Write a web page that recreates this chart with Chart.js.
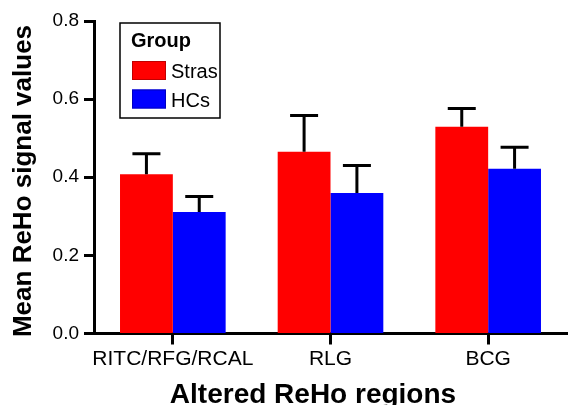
<!DOCTYPE html>
<html lang="en">
<head>
    <meta charset="UTF-8">
    <title>ReHo signal values</title>
    <script src="https://cdn.jsdelivr.net/npm/chart.js"></script>
    <style>
        body {
            margin: 0;
            background: #fff;
        }
    </style>
</head>
<body>
    <canvas id="rehoChart" width="569" height="405"></canvas>
<script>
    // Data
    const regions = ['RITC/RFG/RCAL', 'RLG', 'BCG'];
    const groups = ['Stras', 'HCs'];
    const strasMeans = [0.408, 0.465, 0.529];
    const strasErr = [0.052, 0.093, 0.047];
    const hcsMeans = [0.311, 0.360, 0.422];
    const hcsErr = [0.040, 0.070, 0.055];
    const yTickLabels = ['0.0', '0.2', '0.4', '0.6', '0.8'];

    const FONT = "'Liberation Sans', Arial, sans-serif";

    // one-sided (upper) error bars
    const errorBars = {
        id: 'errorBars',
        afterDatasetsDraw(chart) {
            const ctx = chart.ctx;
            const y = chart.scales.y;
            ctx.save();
            ctx.strokeStyle = '#000';
            ctx.lineWidth = 3;
            chart.data.datasets.forEach((ds, i) => {
                const meta = chart.getDatasetMeta(i);
                meta.data.forEach((bar, j) => {
                    const top = y.getPixelForValue(ds.data[j] + ds.errors[j]);
                    ctx.beginPath();
                    ctx.moveTo(bar.x, bar.y);
                    ctx.lineTo(bar.x, top);
                    ctx.moveTo(bar.x - 14, top);
                    ctx.lineTo(bar.x + 14, top);
                    ctx.stroke();
                });
            });
            ctx.restore();
        }
    };

    // boxed legend with title, inside the plot, plus the axis titles
    const extras = {
        id: 'extras',
        afterDraw(chart) {
            const ctx = chart.ctx;
            ctx.save();
            ctx.fillStyle = '#000';

            // legend box
            ctx.strokeStyle = '#000';
            ctx.lineWidth = 1.5;
            ctx.strokeRect(120, 23, 100, 95);
            ctx.font = 'bold 20px ' + FONT;
            ctx.textBaseline = 'alphabetic';
            ctx.fillText('Group', 131, 47);
            chart.data.datasets.forEach((ds, i) => {
                const top = 61 + i * 28.5;
                ctx.fillStyle = ds.backgroundColor;
                ctx.fillRect(132, top, 34, 19);
                ctx.strokeStyle = i === 0 ? '#c00000' : '#0000c0';
                ctx.lineWidth = 1;
                ctx.strokeRect(132.5, top + 0.5, 33, 18);
                ctx.fillStyle = '#000';
                ctx.font = '20px ' + FONT;
                ctx.fillText(ds.label, 171, top + 17);
            });

            // axis titles
            ctx.font = 'bold 28px ' + FONT;
            ctx.textAlign = 'center';
            ctx.fillText('Altered ReHo regions', 313, 403);

            ctx.translate(31, 181);
            ctx.rotate(-Math.PI / 2);
            ctx.font = 'bold 26px ' + FONT;
            ctx.fillText('Mean ReHo signal values', 0, 0);
            ctx.restore();
        }
    };

    const ctx = document.getElementById('rehoChart').getContext('2d');

    new Chart(ctx, {
        type: 'bar',
        data: {
            labels: regions,
            datasets: [{
                label: groups[0],
                data: strasMeans,
                errors: strasErr,
                backgroundColor: '#ff0000'
            }, {
                label: groups[1],
                data: hcsMeans,
                errors: hcsErr,
                backgroundColor: '#0000ff'
            }]
        },
        options: {
            responsive: false,
            animation: false,
            devicePixelRatio: 1,
            layout: {
                padding: { top: 21, right: 2, left: 0, bottom: 0 }
            },
            datasets: {
                bar: {
                    categoryPercentage: 0.67,
                    barPercentage: 1.0
                }
            },
            plugins: {
                legend: { display: false },
                tooltip: { enabled: false }
            },
            scales: {
                x: {
                    afterFit(scale) { scale.height = 71.5; },
                    border: { display: true, color: '#000', width: 3 },
                    grid: {
                        offset: false,
                        drawOnChartArea: false,
                        drawTicks: true,
                        tickLength: 11,
                        tickWidth: 3,
                        tickColor: '#000'
                    },
                    ticks: {
                        color: '#000',
                        padding: 2,
                        maxRotation: 0,
                        minRotation: 0,
                        autoSkip: false,
                        font: { family: FONT, size: 21 }
                    }
                },
                y: {
                    min: 0,
                    max: 0.8,
                    afterFit(scale) { scale.width = 94; },
                    border: { display: true, color: '#000', width: 3 },
                    grid: {
                        drawOnChartArea: false,
                        drawTicks: true,
                        tickLength: 10,
                        tickWidth: 3,
                        tickColor: '#000'
                    },
                    ticks: {
                        stepSize: 0.2,
                        color: '#000',
                        padding: 5,
                        font: { family: FONT, size: 19 },
                        callback: (v, i) => yTickLabels[i]
                    }
                }
            }
        },
        plugins: [errorBars, extras]
    });
</script>
</body>
</html>
